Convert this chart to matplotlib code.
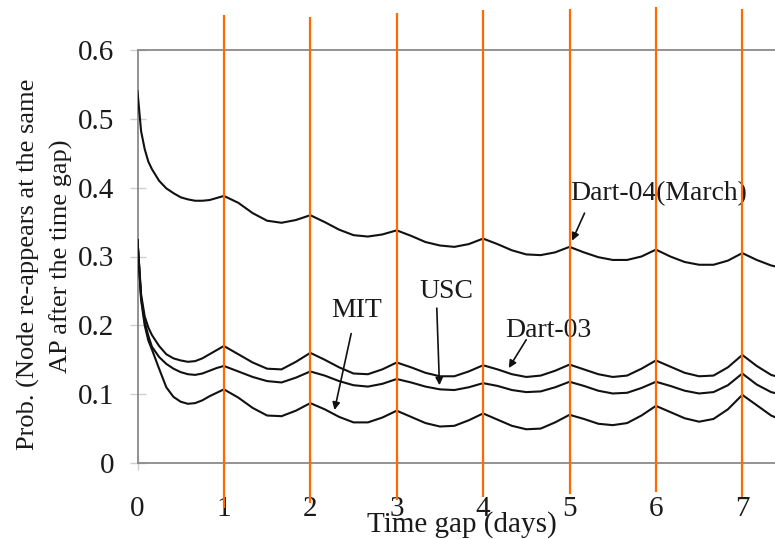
import matplotlib
matplotlib.use("Agg")
import matplotlib.pyplot as plt

# Time gap sample points (hours)
hours = [0, 1, 2, 3, 4, 6, 8, 10, 12, 14, 16, 18, 20, 22, 24,
         28, 32, 36, 40, 44, 48,
         52, 56, 60, 64, 68, 72,
         76, 80, 84, 88, 92, 96,
         100, 104, 108, 112, 116, 120,
         124, 128, 132, 136, 140, 144,
         148, 152, 156, 160, 164, 168,
         172, 176, 180]

# Probability that a node re-appears at the same AP after the gap
dart04 = [0.540, 0.482, 0.456, 0.438, 0.427, 0.410, 0.399, 0.392, 0.386, 0.383, 0.381, 0.381, 0.382, 0.385, 0.388,
          0.378, 0.363, 0.352, 0.349, 0.353, 0.360,
          0.350, 0.339, 0.331, 0.329, 0.332, 0.338,
          0.330, 0.321, 0.316, 0.314, 0.318, 0.326,
          0.318, 0.309, 0.303, 0.302, 0.306, 0.314,
          0.306, 0.299, 0.295, 0.295, 0.300, 0.310,
          0.300, 0.292, 0.288, 0.288, 0.294, 0.305,
          0.295, 0.287, 0.282]

dart03 = [0.324, 0.245, 0.213, 0.197, 0.186, 0.170, 0.158, 0.152, 0.149, 0.147, 0.148, 0.152, 0.158, 0.164, 0.170,
          0.158, 0.146, 0.137, 0.136, 0.147, 0.160,
          0.150, 0.139, 0.130, 0.129, 0.136, 0.146,
          0.139, 0.131, 0.126, 0.126, 0.133, 0.142,
          0.136, 0.129, 0.125, 0.127, 0.134, 0.143,
          0.136, 0.129, 0.125, 0.127, 0.137, 0.149,
          0.140, 0.131, 0.126, 0.127, 0.139, 0.157,
          0.141, 0.128, 0.122]

usc = [0.324, 0.240, 0.205, 0.185, 0.169, 0.154, 0.144, 0.137, 0.132, 0.129, 0.128, 0.130, 0.134, 0.138, 0.141,
       0.133, 0.125, 0.119, 0.117, 0.124, 0.133,
       0.127, 0.119, 0.113, 0.111, 0.115, 0.122,
       0.117, 0.111, 0.107, 0.106, 0.110, 0.116,
       0.112, 0.106, 0.103, 0.104, 0.110, 0.118,
       0.112, 0.105, 0.101, 0.102, 0.109, 0.118,
       0.112, 0.105, 0.101, 0.103, 0.113, 0.130,
       0.114, 0.103, 0.098]

mit = [0.324, 0.237, 0.200, 0.178, 0.165, 0.137, 0.110, 0.096, 0.089, 0.086, 0.087, 0.091, 0.097, 0.102, 0.107,
       0.095, 0.080, 0.069, 0.068, 0.076, 0.087,
       0.078, 0.067, 0.059, 0.059, 0.066, 0.076,
       0.067, 0.058, 0.053, 0.054, 0.062, 0.072,
       0.063, 0.054, 0.049, 0.050, 0.059, 0.070,
       0.064, 0.057, 0.055, 0.058, 0.069, 0.083,
       0.074, 0.065, 0.060, 0.064, 0.078, 0.099,
       0.084, 0.069, 0.060]

day_ticks = [0, 1, 2, 3, 4, 5, 6, 7]
day_labels = ["0", "1", "2", "3", "4", "5", "6", "7"]
prob_ticks = [0, 0.1, 0.2, 0.3, 0.4, 0.5, 0.6]
prob_labels = ["0", "0.1", "0.2", "0.3", "0.4", "0.5", "0.6"]
day_markers = [1, 2, 3, 4, 5, 6, 7]

plt.rcParams['font.family'] = ['Liberation Serif', 'DejaVu Serif']
TEXT = '#1a1a1a'

W, H = 775, 539
fig = plt.figure(figsize=(W / 100, H / 100), dpi=100)
fig.patch.set_facecolor('white')

x0_px, px_per_day = 137.5, 86.4
ax = fig.add_axes([x0_px / W, 76 / H, 1 - x0_px / W, 413 / H])
ax.set_xlim(0, (W - x0_px) / px_per_day)
ax.set_ylim(0, 0.6)

days = [h / 24 for h in hours]
for series in (dart04, dart03, usc, mit):
    ax.plot(days, series, color='#111111', lw=1.5, solid_joinstyle='round', zorder=3)

# Orange day markers, running past the plot frame
marker_top = [0.651, 0.648, 0.654, 0.658, 0.660, 0.662, 0.660]
marker_bottom = [-0.065, -0.058, -0.054, -0.049, -0.045, -0.042, -0.049]
for d, t, b in zip(day_markers, marker_top, marker_bottom):
    ax.plot([d, d], [b, t], color='#ff6a00', lw=1.6, clip_on=False, zorder=6,
            solid_capstyle='butt')

for side in ('left', 'top', 'bottom'):
    ax.spines[side].set_color('#8a8a8a')
    ax.spines[side].set_linewidth(1.3)
ax.spines['right'].set_visible(False)

ax.set_xticks(day_ticks)
ax.set_xticklabels(day_labels)
ax.set_yticks(prob_ticks)
ax.set_yticklabels(prob_labels)
ax.tick_params(axis='y', direction='inout', length=12, width=1, color='#cfcfcf',
               labelsize=21, labelcolor=TEXT, pad=11)
ax.tick_params(axis='x', direction='inout', length=10, width=1, color='#cfcfcf',
               labelsize=21, labelcolor=TEXT, pad=19)

# Axis titles
fig.text(462 / W, 1 - 531.5 / H, "Time gap (days)", ha='center', va='baseline',
         fontsize=21, color=TEXT)
fig.text(28 / W, 1 - 264 / H, "Prob. (Node re-appears at the same", rotation=90,
         ha='center', va='center', fontsize=19, color=TEXT)
fig.text(61 / W, 1 - 256 / H, "AP after the time gap)", rotation=90,
         ha='center', va='center', fontsize=19, color=TEXT)

# Series labels with pointer arrows
arrow = dict(arrowstyle='-|>', color='#111111', lw=1.2, mutation_scale=11,
             shrinkA=0, shrinkB=0)
labels = [
    ("Dart-04(March)", (5.01, 0.382), (5.174, 0.363), (5.03, 0.323)),
    ("MIT", (2.24, 0.2126), (2.473, 0.188), (2.28, 0.077)),
    ("USC", (3.265, 0.239), (3.464, 0.225), (3.495, 0.113)),
    ("Dart-03", (4.26, 0.1826), (4.499, 0.179), (4.297, 0.138)),
]
for text, tpos, start, tip in labels:
    ax.text(tpos[0], tpos[1], text, ha='left', va='baseline', fontsize=20,
            color=TEXT, zorder=4)
    ax.annotate('', xy=tip, xytext=start, arrowprops=arrow, zorder=4)

fig.savefig('out.png', dpi=100, facecolor='white')
